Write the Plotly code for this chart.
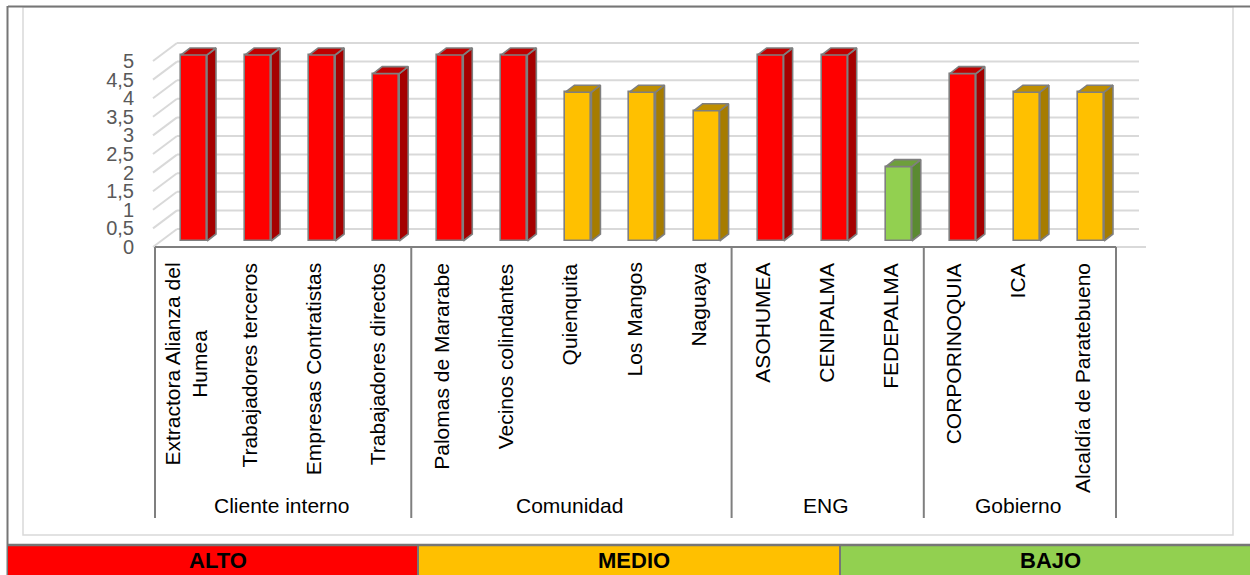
import plotly.graph_objects as go

# ---------------- data ----------------
groups = ["Cliente interno", "Comunidad", "ENG", "Gobierno"]
group_sizes = [4, 5, 3, 3]
categories = [
    "Extractora Alianza del<br>Humea", "Trabajadores terceros", "Empresas Contratistas",
    "Trabajadores directos", "Palomas de Mararabe", "Vecinos colindantes", "Quienquita",
    "Los Mangos", "Naguaya", "ASOHUMEA", "CENIPALMA", "FEDEPALMA", "CORPORINOQUIA",
    "ICA", "Alcaldía de Paratebueno",
]
values = [5, 5, 5, 4.5, 5, 5, 4, 4, 3.5, 5, 5, 2, 4.5, 4, 4]
levels = ["ALTO", "ALTO", "ALTO", "ALTO", "ALTO", "ALTO", "MEDIO", "MEDIO", "MEDIO",
          "ALTO", "ALTO", "BAJO", "ALTO", "MEDIO", "MEDIO"]
legend_labels = ["ALTO", "MEDIO", "BAJO"]
y_ticks = [0, 0.5, 1, 1.5, 2, 2.5, 3, 3.5, 4, 4.5, 5]
y_ticktext = [f"{v:g}".replace(".", ",") for v in y_ticks]

# ---------------- styles ----------------
FRONT = {"ALTO": "#ff0000", "MEDIO": "#ffc000", "BAJO": "#92d050"}
SIDE = {"ALTO": "#a50000", "MEDIO": "#a67c00", "BAJO": "#5b8a32"}
TOP = {"ALTO": "#c00000", "MEDIO": "#bf8f00", "BAJO": "#6e9f3c"}
EDGE = "#7f7f7f"
GRID = "#d9d9d9"

W, H = 1250, 575
CAT_PX = 64.07      # pixels per category
BAR0_PX = 194       # pixel x of first bar front-face centre
BASE_PX = 241       # pixel y of bar base (front face)
UNIT_PX = 37.2      # pixels per value unit
BAR_W_PX = 26
DEPTH_DX, DEPTH_DY = 9, 7          # bar depth (pixels)
BACK_DX, BACK_DY = 22, 18          # floor depth (pixels) front edge -> back wall
FRONT_EDGE_PX = 247                # y pixel of floor front edge (value 0)
AX_LEFT_PX, AX_RIGHT_PX = 155, 1116


def xd(px):
    return (px - BAR0_PX) / CAT_PX


def yd(py):
    return (BASE_PX - py) / UNIT_PX


def xp(px):
    return px / W


def yp(py):
    return 1 - py / H


idx = list(range(len(values)))
bw = BAR_W_PX / CAT_PX
ddx = DEPTH_DX / CAT_PX
ddy = DEPTH_DY / UNIT_PX

fig = go.Figure()

# front faces (real bars)
fig.add_trace(go.Bar(
    x=idx, y=values, width=bw,
    marker=dict(color=[FRONT[l] for l in levels], line=dict(color=EDGE, width=1.6)),
    showlegend=False, hoverinfo="skip",
))

# side and top faces
for lev in legend_labels:
    sx, sy, tx, ty = [], [], [], []
    for i, v, l in zip(idx, values, levels):
        if l != lev:
            continue
        r = i + bw / 2
        lft = i - bw / 2
        sx += [r, r + ddx, r + ddx, r, r, None]
        sy += [0, ddy, v + ddy, v, 0, None]
        tx += [lft, r, r + ddx, lft + ddx, lft, None]
        ty += [v, v, v + ddy, v + ddy, v, None]
    if not sx:
        continue
    fig.add_trace(go.Scatter(x=sx, y=sy, mode="lines", fill="toself", fillcolor=SIDE[lev],
                             line=dict(color=EDGE, width=1.6), showlegend=False, hoverinfo="skip"))
    fig.add_trace(go.Scatter(x=tx, y=ty, mode="lines", fill="toself", fillcolor=TOP[lev],
                             line=dict(color=EDGE, width=1.6), showlegend=False, hoverinfo="skip"))

# invisible trace to carry the tick axis
fig.add_trace(go.Scatter(x=[None], y=[None], yaxis="y2", showlegend=False, hoverinfo="skip"))

shapes = []
# gridlines on back wall + slanted side wall lines
for v in y_ticks:
    fy = FRONT_EDGE_PX - UNIT_PX * v
    by = fy - BACK_DY
    shapes.append(dict(type="line", xref="paper", yref="paper",
                       x0=xp(AX_LEFT_PX - 2), y0=yp(fy), x1=xp(AX_LEFT_PX - 2 + BACK_DX + 2), y1=yp(by),
                       line=dict(color=GRID, width=2), layer="below"))
    shapes.append(dict(type="line", xref="paper", yref="paper",
                       x0=xp(AX_LEFT_PX + BACK_DX), y0=yp(by), x1=xp(AX_RIGHT_PX + BACK_DX + 1), y1=yp(by),
                       line=dict(color=GRID, width=2), layer="below"))
# floor front edge continuation
shapes.append(dict(type="line", xref="paper", yref="paper",
                   x0=xp(AX_RIGHT_PX), y0=yp(FRONT_EDGE_PX), x1=xp(AX_RIGHT_PX + 30),
                   y1=yp(FRONT_EDGE_PX), line=dict(color=GRID, width=2), layer="below"))

# category axis box
shapes.append(dict(type="line", xref="paper", yref="paper",
                   x0=xp(AX_LEFT_PX), y0=yp(FRONT_EDGE_PX), x1=xp(AX_RIGHT_PX), y1=yp(FRONT_EDGE_PX),
                   line=dict(color=EDGE, width=2)))
bounds = [AX_LEFT_PX]
for n in group_sizes:
    bounds.append(bounds[-1] + n * (AX_RIGHT_PX - AX_LEFT_PX) / len(values))
for b in bounds:
    shapes.append(dict(type="line", xref="paper", yref="paper",
                       x0=xp(b), y0=yp(FRONT_EDGE_PX), x1=xp(b), y1=yp(518),
                       line=dict(color=EDGE, width=2)))

# chart-area and outer frames
shapes.append(dict(type="rect", xref="paper", yref="paper",
                   x0=xp(23), y0=yp(535), x1=xp(1233), y1=yp(7),
                   line=dict(color=GRID, width=1.5), layer="below"))
shapes.append(dict(type="line", xref="paper", yref="paper", x0=xp(8), y0=yp(6.5), x1=xp(W), y1=yp(6.5),
                   line=dict(color="#767676", width=2)))
shapes.append(dict(type="line", xref="paper", yref="paper", x0=xp(7.5), y0=yp(6), x1=xp(7.5), y1=yp(H),
                   line=dict(color="#767676", width=2)))

# level strip at the bottom
strip_bounds = [8, 418, 840, W]
annotations = []
for k, lab in enumerate(legend_labels):
    shapes.append(dict(type="rect", xref="paper", yref="paper",
                       x0=xp(strip_bounds[k]), y0=yp(H), x1=xp(strip_bounds[k + 1]), y1=yp(545),
                       fillcolor=FRONT[lab], line=dict(width=0)))
    annotations.append(dict(x=xp((strip_bounds[k] + strip_bounds[k + 1]) / 2 + 5), y=yp(560),
                            xref="paper", yref="paper", text=f"<b>{lab}</b>", showarrow=False,
                            xanchor="center", yanchor="middle",
                            font=dict(family="Liberation Sans, Arial", size=22, color="#000000")))
for b in strip_bounds[1:-1]:
    shapes.append(dict(type="line", xref="paper", yref="paper", x0=xp(b), y0=yp(H), x1=xp(b), y1=yp(545),
                       line=dict(color="#767676", width=2)))
shapes.append(dict(type="line", xref="paper", yref="paper", x0=xp(8), y0=yp(545), x1=xp(W), y1=yp(545),
                   line=dict(color="#767676", width=2.5)))

# category labels
cat_font = dict(family="Liberation Sans, Arial", size=21, color="#000000")
for i, c in enumerate(categories):
    cx = AX_LEFT_PX + (i + 0.5) * (AX_RIGHT_PX - AX_LEFT_PX) / len(values) - 2
    annotations.append(dict(x=xp(cx), y=yp(261), xref="paper", yref="paper", text=c,
                            textangle=-90, showarrow=False, xanchor="center", yanchor="top",
                            align="center", font=cat_font))
for g, (b0, b1) in zip(groups, zip(bounds[:-1], bounds[1:])):
    annotations.append(dict(x=xp((b0 + b1) / 2 - 2), y=yp(505), xref="paper", yref="paper", text=g,
                            showarrow=False, xanchor="center", yanchor="middle", font=cat_font))

fig.update_layout(
    width=W, height=H, autosize=False,
    margin=dict(l=0, r=0, t=0, b=0, pad=0),
    paper_bgcolor="#ffffff", plot_bgcolor="rgba(0,0,0,0)",
    separators=",.",
    bargap=0,
    xaxis=dict(range=[xd(0), xd(W)], visible=False, fixedrange=True),
    yaxis=dict(range=[yd(H), yd(0)], visible=False, fixedrange=True),
    yaxis2=dict(overlaying="y", anchor="free", position=xp(151), side="left",
                range=[(FRONT_EDGE_PX - H) / UNIT_PX, FRONT_EDGE_PX / UNIT_PX],
                tickmode="array", tickvals=y_ticks, ticktext=y_ticktext,
                showgrid=False, zeroline=False, showline=False, ticks="",
                ticklabelstandoff=17,
                tickfont=dict(family="Liberation Sans, Arial", size=20, color="#595959"),
                fixedrange=True),
    shapes=shapes,
    annotations=annotations,
    showlegend=False,
)

fig.write_html("out.html", config={"displayModeBar": False},
               post_script="document.body.style.margin='0';document.body.style.overflow='hidden';")
